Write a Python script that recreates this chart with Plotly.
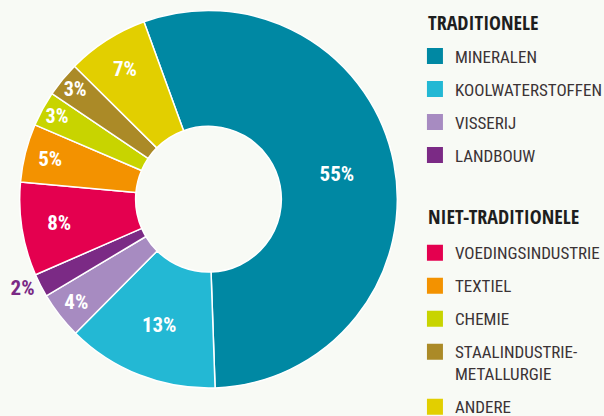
import plotly.graph_objects as go

labels = ["MINERALEN", "KOOLWATERSTOFFEN", "VISSERIJ", "LANDBOUW",
          "VOEDINGSINDUSTRIE", "TEXTIEL", "CHEMIE",
          "STAALINDUSTRIE-<br>METALLURGIE", "ANDERE"]
values = [55, 13, 4, 2, 8, 5, 3, 3, 7]
groups = ["TRADITIONELE"] * 4 + ["NIET-TRADITIONELE"] * 5
group_titles = ["TRADITIONELE", "NIET-TRADITIONELE"]
colors = ["#0088a3", "#23b8d4", "#a78bc1", "#7b2a85",
          "#e4004f", "#f39200", "#c8d400", "#ab8a27", "#e2cf00"]

FONT = "Roboto Condensed, DejaVu Sans Condensed, sans-serif"
TITLE_FONT = "Open Sans Condensed, Roboto Condensed, sans-serif"
BG = "#f8faf5"

textpos = ["outside" if v <= 2 else "inside" for v in values]
textcol = [c if v <= 2 else "white" for v, c in zip(values, colors)]

fig = go.Figure()
fig.add_trace(go.Pie(
    labels=labels, values=values, sort=False, direction="clockwise",
    rotation=-20, hole=0.386,
    marker=dict(colors=colors, line=dict(color="white", width=1.5)),
    texttemplate="%{value}%", textposition=textpos,
    insidetextorientation="horizontal",
    textfont=dict(family=FONT, size=21, color=textcol, weight="bold"),
    domain=dict(x=[0.0326, 0.6578], y=[0.0673, 0.975]),
    showlegend=False, hoverinfo="label+percent",
))

legend_ids = {group_titles[0]: "legend", group_titles[1]: "legend2"}
for lab, col, grp in zip(labels, colors, groups):
    fig.add_trace(go.Scatter(
        x=[None], y=[None], mode="markers", name=lab,
        marker=dict(symbol="square", size=18, color=col, line=dict(width=0)),
        legendgroup=lab, legend=legend_ids[grp],
        hoverinfo="skip",
    ))

common = dict(x=0.687, xanchor="left", yanchor="top",
              bgcolor="rgba(0,0,0,0)", tracegroupgap=7.9, valign="top",
              itemclick=False, itemdoubleclick=False,
              font=dict(family=FONT, size=17, color="#3b3335"))

title_y = [0.947, 0.4795]
annotations = [dict(text=t, x=0.7053, y=yy, xref="paper", yref="paper",
                    xanchor="left", yanchor="middle", showarrow=False,
                    font=dict(family=TITLE_FONT, size=20, color="#1e1e1e", weight="bold"))
               for t, yy in zip(group_titles, title_y)]

fig.update_layout(
    width=604, height=416,
    margin=dict(l=0, r=0, t=0, b=0, autoexpand=False),
    paper_bgcolor=BG, plot_bgcolor=BG,
    xaxis=dict(visible=False), yaxis=dict(visible=False),
    font=dict(family=FONT, size=17, color="#3b3335"),
    legend=dict(y=0.9075, **common),
    legend2=dict(y=0.4346, **common),
    annotations=annotations,
)

fig.write_html("out.html", config={"displayModeBar": False},
               post_script="document.body.style.margin='0';document.body.style.background='" + BG + "';")
